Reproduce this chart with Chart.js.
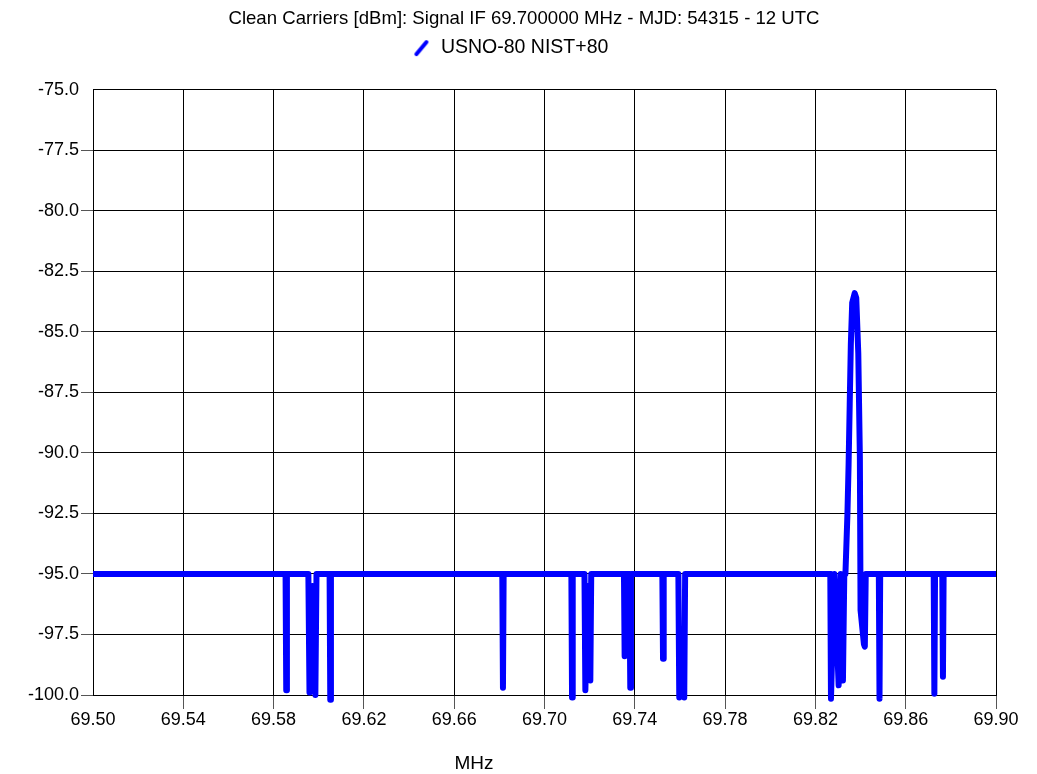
<!DOCTYPE html>
<html>
<head>
<meta charset="utf-8">
<title>Clean Carriers</title>
<script src="https://cdn.jsdelivr.net/npm/chart.js@4.4.1/dist/chart.umd.min.js"></script>
<style>
  html, body { margin: 0; padding: 0; background: #ffffff; }
  #wrap { position: relative; width: 1037px; height: 774px; }
  canvas { display: block; }
</style>
</head>
<body>
<div id="wrap"><canvas id="c" width="1037" height="774"></canvas></div>
<script>
// ---- Data ----
const chartTitle = 'Clean Carriers [dBm]: Signal IF 69.700000 MHz - MJD: 54315 - 12 UTC';
const seriesName = 'USNO-80 NIST+80';
const xAxisTitle = 'MHz';

const freqMHz = [
  69.5000,
  69.5853, 69.5856, 69.5859,
  69.5954, 69.5959, 69.5972, 69.5985, 69.5990,
  69.6048, 69.6051, 69.6054,
  69.6813, 69.6816, 69.6819,
  69.7119, 69.7122, 69.7125,
  69.7177, 69.7181, 69.7192, 69.7203, 69.7207,
  69.7352, 69.7355, 69.7358, 69.7376, 69.7380, 69.7383,
  69.7522, 69.7525, 69.7528,
  69.7593, 69.7597, 69.7608, 69.7619, 69.7623,
  69.8266, 69.8269, 69.8284, 69.8303, 69.8312, 69.8322, 69.8328,
  69.8333, 69.8342, 69.8347, 69.8352, 69.8357, 69.8363, 69.8374, 69.8381,
  69.8390, 69.8397, 69.8400, 69.8415, 69.8419, 69.8423,
  69.8481, 69.8484, 69.8487,
  69.8724, 69.8727, 69.8730,
  69.8762, 69.8765, 69.8768,
  69.9000
];
const powerDbm = [
  -95.0,
  -95.0, -99.8, -95.0,
  -95.0, -99.9, -95.5, -100.0, -95.0,
  -95.0, -100.2, -95.0,
  -95.0, -99.7, -95.0,
  -95.0, -100.1, -95.0,
  -95.0, -99.8, -95.5, -99.4, -95.0,
  -95.0, -98.4, -95.0, -95.0, -99.7, -95.0,
  -95.0, -98.5, -95.0,
  -95.0, -100.1, -97.5, -100.1, -95.0,
  -95.0, -100.15, -95.0, -99.6, -95.0, -99.4, -95.0,
  -95.0, -92.5, -90.5, -88.0, -85.5, -83.8, -83.4, -83.6,
  -85.9, -90.2, -96.5, -97.9, -98.0, -95.0,
  -95.0, -100.15, -95.0,
  -95.0, -99.95, -95.0,
  -95.0, -99.25, -95.0,
  -95.0
];

const xMin = 69.50, xMax = 69.90, xStep = 0.04;
const yMin = -100.0, yMax = -75.0, yStep = 2.5;

// ---- Chart ----
Chart.defaults.font.family = "'Liberation Sans', Arial, Helvetica, sans-serif";
Chart.defaults.font.size = 18;
Chart.defaults.color = '#000000';

// legend icon: slanted blue stroke
const icon = document.createElement('canvas');
icon.width = 16; icon.height = 18;
(function () {
  const g = icon.getContext('2d');
  g.strokeStyle = '#0000ff';
  g.lineWidth = 4;
  g.lineCap = 'round';
  g.beginPath();
  g.moveTo(3, 15);
  g.lineTo(13, 3);
  g.stroke();
})();

const layoutTweaks = {
  id: 'layoutTweaks',
  beforeLayout(chart) {
    const lg = chart.legend;
    if (lg && !lg._spacerPatched) {
      const orig = lg.fit;
      lg.fit = function () { orig.call(this); this.height += 22; };
      lg._spacerPatched = true;
    }
  },
  afterLayout(chart) {
    if (chart.titleBlock) { chart.titleBlock.left += 26; chart.titleBlock.right += 26; }
    if (chart.legend) { chart.legend.left += 12; chart.legend.right += 12; }
  }
};

const axisTitlePlugin = {
  id: 'axisTitlePlugin',
  afterDraw(chart) {
    const ctx = chart.ctx;
    ctx.save();
    ctx.font = "19px 'Liberation Sans', Arial, sans-serif";
    ctx.fillStyle = '#000000';
    ctx.textAlign = 'center';
    ctx.textBaseline = 'middle';
    ctx.fillText(xAxisTitle, 474, 764);
    ctx.restore();
  }
};

const points = freqMHz.map((f, i) => ({ x: f, y: powerDbm[i] }));

new Chart(document.getElementById('c'), {
  type: 'line',
  data: {
    datasets: [{
      label: seriesName,
      data: points,
      borderColor: '#0000ff',
      backgroundColor: '#0000ff',
      borderWidth: 6,
      borderJoinStyle: 'round',
      borderCapStyle: 'round',
      pointRadius: 0,
      pointHoverRadius: 0,
      tension: 0,
      fill: false,
      clip: { left: 0, right: 0, top: 12, bottom: 12 }
    }]
  },
  options: {
    responsive: false,
    animation: false,
    devicePixelRatio: 1,
    layout: { padding: { left: 0, right: 41, top: 0, bottom: 0 } },
    plugins: {
      title: {
        display: true,
        text: chartTitle,
        font: { size: 18.6, weight: 'normal' },
        color: '#000000',
        padding: { top: 8, bottom: 4 }
      },
      legend: {
        display: true,
        position: 'top',
        labels: {
          usePointStyle: true,
          pointStyle: icon,
          padding: 4,
          font: { size: 19.5 },
          color: '#000000'
        }
      },
      tooltip: { enabled: false }
    },
    scales: {
      x: {
        type: 'linear',
        min: xMin,
        max: xMax,
        afterFit(s) { s.height = 79; s.paddingLeft = 0; s.paddingRight = 0; },
        ticks: {
          stepSize: xStep,
          padding: 0,
          maxRotation: 0,
          autoSkip: false,
          color: '#000000',
          font: { size: 18 },
          callback: (v) => Number(v).toFixed(2)
        },
        grid: {
          color: '#000000',
          lineWidth: 1,
          drawTicks: true,
          tickLength: 14,
          tickColor: (c) => (c.index === 0 ? 'rgba(0,0,0,0)' : '#555555')
        },
        border: { display: true, color: '#000000', width: 1 }
      },
      y: {
        type: 'linear',
        min: yMin,
        max: yMax,
        afterFit(s) { s.width = 93; },
        ticks: {
          stepSize: yStep,
          padding: 2,
          color: '#000000',
          font: { size: 18 },
          callback: (v) => Number(v).toFixed(1)
        },
        grid: {
          color: '#000000',
          lineWidth: 1,
          drawTicks: true,
          tickLength: 12,
          tickColor: (c) => (c.tick && Math.abs(c.tick.value - yMax) < 1e-6 ? 'rgba(0,0,0,0)' : '#555555')
        },
        border: { display: true, color: '#000000', width: 1 }
      }
    }
  },
  plugins: [layoutTweaks, axisTitlePlugin]
});
</script>
</body>
</html>
